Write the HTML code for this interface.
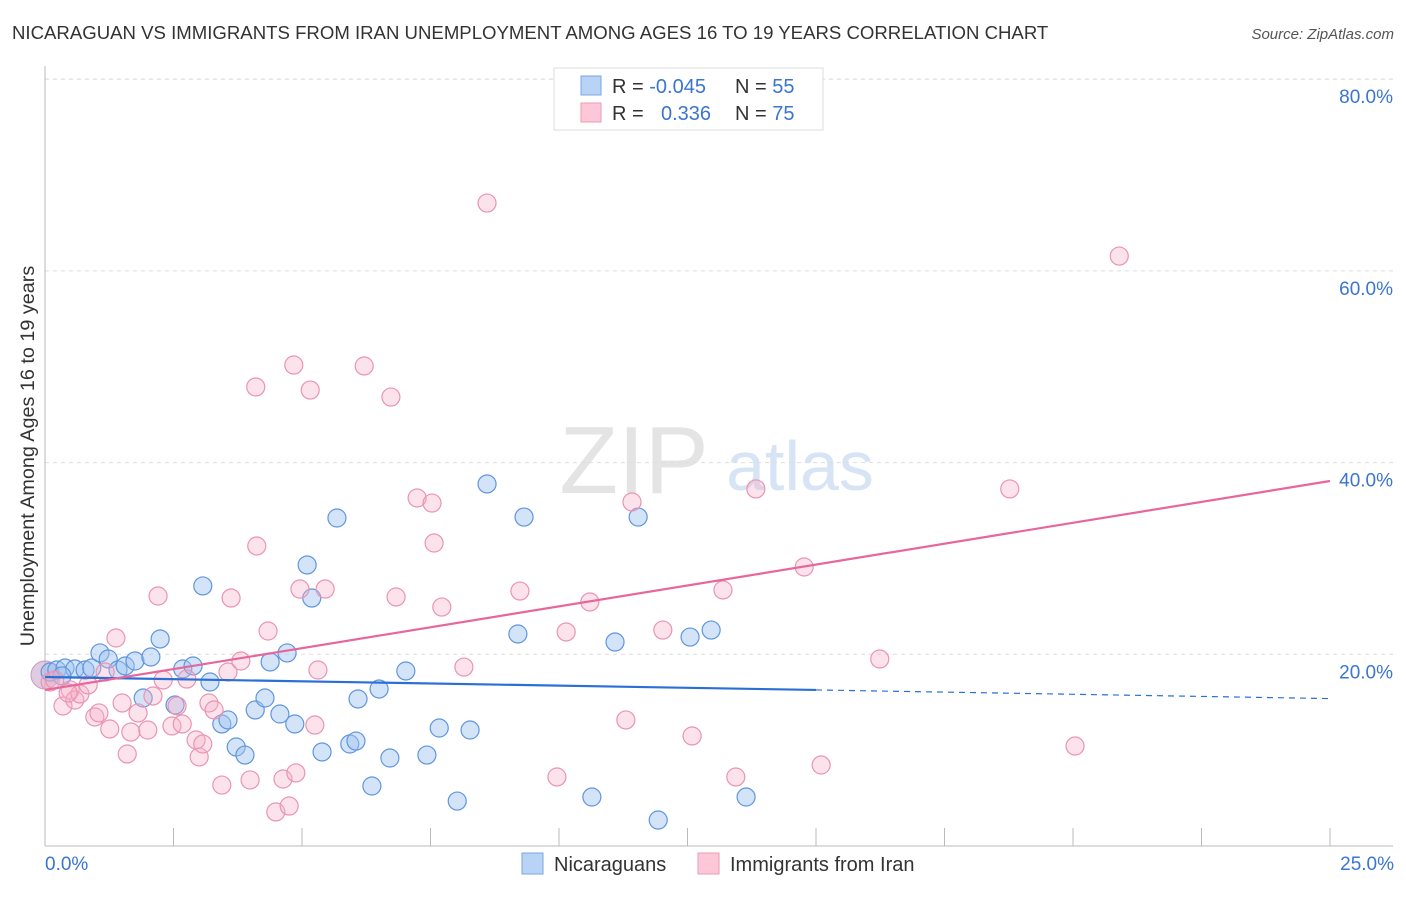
<!DOCTYPE html>
<html><head><meta charset="utf-8"><style>
body{margin:0;background:#fff;font-family:"Liberation Sans",sans-serif}
svg text{font-family:"Liberation Sans",sans-serif}
</style></head><body>
<svg id="chart" width="1406" height="892">
<text x="12" y="39" font-size="18.6" fill="#333">NICARAGUAN VS IMMIGRANTS FROM IRAN UNEMPLOYMENT AMONG AGES 16 TO 19 YEARS CORRELATION CHART</text>
<text x="1394" y="39" font-size="15" fill="#555" font-style="italic" text-anchor="end">Source: ZipAtlas.com</text>
<text x="634" y="493" font-size="96" fill="#e4e4e4" text-anchor="middle" font-family="Liberation Serif,serif">ZIP</text>
<text x="800" y="490" font-size="70" fill="#d6e4f5" text-anchor="middle">atlas</text>
<g id="grid"></g>
<g id="axes"></g>
<g id="pts"></g>
<g id="trends"></g>
<text x="34" y="456" font-size="19.8" fill="#333" text-anchor="middle" transform="rotate(-90 34 456)">Unemployment Among Ages 16 to 19 years</text>
<text x="45" y="870" font-size="19" fill="#3a75d0">0.0%</text>
<text x="1394" y="870" font-size="19" fill="#3a75d0" text-anchor="end">25.0%</text>
<g>
<rect x="554" y="68" width="269" height="62" fill="#fff" stroke="#ddd"/>
<rect x="581" y="76" width="20" height="19" fill="#b8d3f5" stroke="#7aa6e6"/>
<rect x="581" y="103" width="20" height="19" fill="#fcc8d8" stroke="#ee9ab6"/>
<text x="612" y="93" font-size="20" fill="#333">R = <tspan fill="#3a75d0">-0.045</tspan><tspan x="735">N = </tspan><tspan fill="#3a75d0">55</tspan></text>
<text x="612" y="120" font-size="20" fill="#333">R = <tspan x="661" fill="#3a75d0">0.336</tspan><tspan x="735">N = </tspan><tspan fill="#3a75d0">75</tspan></text>
</g>
<g>
<rect x="522" y="853" width="21" height="21" fill="#b8d3f5" stroke="#7aa6e6"/>
<text x="554" y="871" font-size="20" fill="#333">Nicaraguans</text>
<rect x="698" y="853" width="21" height="21" fill="#fcc8d8" stroke="#ee9ab6"/>
<text x="730" y="871" font-size="20" fill="#333">Immigrants from Iran</text>
</g>
</svg>
<script>
const yTicks=[20,40,60,80];
const xTickCount=10;
const blueX=[0.10,0.23,0.39,0.58,0.78,0.91,1.07,1.23,1.42,1.56,1.75,1.91,2.06,2.24,2.53,2.68,2.88,3.07,3.21,3.44,3.56,3.72,3.89,4.09,4.28,4.38,4.57,4.71,4.86,5.10,5.19,5.39,5.68,5.93,6.05,6.09,6.36,6.50,6.71,7.02,7.43,7.67,8.02,8.27,8.60,9.20,9.32,10.64,11.09,11.54,11.93,12.55,12.96,13.64,0.33];
const blueY=[18.15,18.36,18.57,18.47,18.36,18.57,20.14,19.51,18.36,18.78,19.30,15.44,19.72,21.60,14.71,18.47,18.78,27.13,17.11,12.73,13.15,10.33,9.49,14.19,15.44,19.20,13.77,20.14,12.73,29.32,25.87,9.81,34.22,10.64,10.95,15.34,6.26,16.38,9.18,18.26,9.49,12.31,4.69,12.10,37.77,22.12,34.32,5.11,21.28,34.32,2.71,21.80,22.53,5.11,17.74];
const pinkX=[0.10,0.19,0.35,0.49,0.58,0.68,0.84,0.97,1.05,1.26,1.38,1.50,1.60,1.67,1.81,2.00,2.10,2.20,2.30,2.47,2.57,2.67,2.76,2.94,3.00,3.07,3.19,3.29,3.44,3.56,3.62,3.81,3.99,4.10,4.12,4.34,4.49,4.63,4.75,4.84,4.88,4.96,5.16,5.25,5.31,5.45,6.21,6.73,6.83,7.24,7.53,7.57,7.72,8.15,8.60,9.24,9.96,10.14,10.60,11.30,11.42,12.02,12.59,13.19,13.44,13.83,14.77,15.10,16.24,18.77,20.04,20.90,0.45,1.17];
const pinkY=[17.11,17.32,14.61,16.28,15.23,15.86,16.80,13.46,13.88,12.21,21.70,14.92,9.60,11.89,13.88,12.10,15.65,26.08,17.32,12.52,14.61,12.73,17.42,11.06,9.29,10.64,14.92,14.19,6.36,18.15,25.87,19.30,6.89,47.89,31.30,22.43,3.55,6.99,4.17,50.18,7.62,26.81,47.57,12.62,18.36,26.81,50.08,46.84,25.98,36.31,35.78,31.61,24.93,18.67,67.08,26.60,7.20,22.33,25.46,13.15,35.89,22.53,11.48,26.71,7.20,37.25,29.11,8.45,19.51,37.25,10.43,61.55,15.96,18.15];
const bigPoint=[0,17.84];
const blueTrend=[17.63,16.28];   // y at x=0, y at x=15
const pinkTrend=[16.28,38.08];   // y at x=0, y at x=25
const NS='http://www.w3.org/2000/svg';
const xs=v=>45+v/25*1285;
const ys=v=>846-v*9.585;
function mk(tag,attrs,parent){const e=document.createElementNS(NS,tag);for(const k in attrs)e.setAttribute(k,attrs[k]);parent.appendChild(e);return e;}
const grid=document.getElementById('grid'),axes=document.getElementById('axes'),pts=document.getElementById('pts'),tr=document.getElementById('trends');
mk('line',{x1:45,x2:1393,y1:79,y2:79,stroke:'#ddd','stroke-dasharray':'4,4'},grid);
yTicks.forEach(t=>{
 const l=mk('line',{x1:45,x2:1393,y1:ys(t),y2:ys(t),stroke:'#ddd','stroke-dasharray':'4,4'},grid);
 
 
 const tx=mk('text',{x:1393,y:ys(t)+24,'font-size':19,fill:'#3a75d0','text-anchor':'end'},grid);
 tx.textContent=t.toFixed(1)+'%';
 
 
});
const ya=mk('line',{x1:45,x2:45,y1:66,y2:846,stroke:'#bbb'},axes);


const xa=mk('line',{x1:45,x2:1393,y1:846,y2:846,stroke:'#bbb'},axes);


for(let i=1;i<=xTickCount;i++){
 const v=25*i/xTickCount;
 const t=mk('line',{x1:xs(v),x2:xs(v),y1:828,y2:846,stroke:'#bbb'},axes);
 
 
}
function dot(x,y,r,fill,stroke,name){
 const c=mk('circle',{cx:xs(x),cy:ys(y),r:r,fill:fill,stroke:stroke,'stroke-width':1.2},pts);
 
 
}
const bp=mk('circle',{cx:xs(bigPoint[0]),cy:ys(bigPoint[1]),r:14,fill:'rgba(200,160,200,0.55)',stroke:'#c79bc4'},pts);


blueX.forEach((x,i)=>dot(x,blueY[i],9,'rgba(160,196,240,0.45)','#5f95df','nicaraguan-point'));
pinkX.forEach((x,i)=>dot(x,pinkY[i],9,'rgba(246,175,198,0.35)','#ea94b2','iran-point'));
const b1=mk('line',{x1:xs(0),y1:ys(blueTrend[0]),x2:xs(15),y2:ys(blueTrend[1]),stroke:'#2a6fd6','stroke-width':2.2},tr);


const slope=(blueTrend[1]-blueTrend[0])/15;
const b2=mk('line',{x1:xs(15),y1:ys(blueTrend[1]),x2:xs(25),y2:ys(blueTrend[1]+slope*10),stroke:'#2a6fd6','stroke-width':1.2,'stroke-dasharray':'6,5'},tr);


const p1=mk('line',{x1:xs(0),y1:ys(pinkTrend[0]),x2:xs(25),y2:ys(pinkTrend[1]),stroke:'#e8679a','stroke-width':2.2},tr);


</script>
</body></html>
